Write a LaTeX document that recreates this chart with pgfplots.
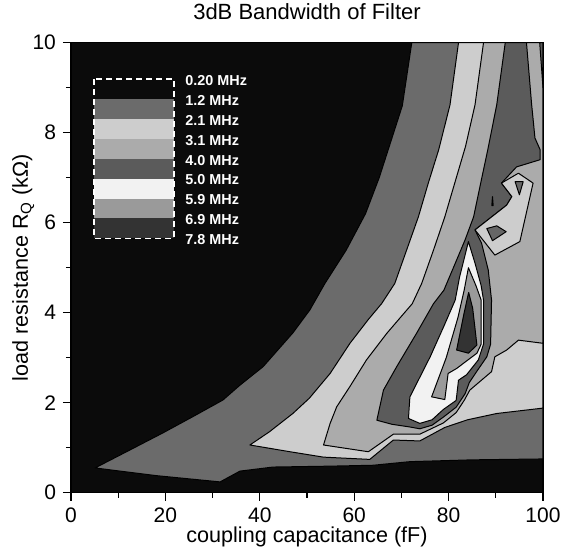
\documentclass[border=0pt]{standalone}
\usepackage{fontspec}
\setmainfont{Liberation Sans}
\usepackage{pgfplots}
\pgfplotsset{compat=1.18}
\definecolor{cK}{HTML}{0B0B0B}
\definecolor{cA}{HTML}{6B6B6B}
\definecolor{cB}{HTML}{CDCDCD}
\definecolor{cC}{HTML}{ABABAB}
\definecolor{cD}{HTML}{5B5B5B}
\definecolor{cE}{HTML}{F2F2F2}
\definecolor{cF}{HTML}{9A9A9A}
\definecolor{cG}{HTML}{333333}
\definecolor{cI}{HTML}{666666}
\begin{document}
\begin{tikzpicture}
\begin{axis}[
  name=ax,
  width=236pt, height=225pt, scale only axis,
  xmin=0, xmax=100, ymin=0, ymax=10,
  xtick={0,20,...,100}, ytick={0,2,...,10},
  minor x tick num=1, minor y tick num=1,
  tick align=outside, tick pos=left,
  major tick length=4pt, minor tick length=2.5pt,
  every tick/.style={black, line width=0.6pt},
  axis line style={line width=0.6pt},
  axis background/.style={fill=cK},
  /pgf/number format/assume math mode=true,
  tick label style={font=\fontsize{10.5}{12}\selectfont},
  xticklabel style={inner sep=1pt, yshift=-2.5pt},
  label style={font=\fontsize{10.8}{12.5}\selectfont},
  every axis title shift=0pt,
  title style={font=\fontsize{11}{13}\selectfont, at={([yshift=11.35pt]axis description cs:0.5,1)}, anchor=base},
  title={3dB Bandwidth of Filter},
  xlabel={coupling capacitance (fF)},
  xlabel style={inner sep=1pt, at={([yshift=-25pt]axis description cs:0.5,0)}, anchor=base},
  ylabel={load resistance R\textsubscript{Q} (kΩ)},
  ylabel style={at={([xshift=-21.5pt]axis description cs:0,0.5)}, anchor=base},
  every axis plot/.append style={draw=black, line width=0.5pt, line join=round, mark=none},
]
% 1.2 - 2.1 MHz
\addplot[fill=cA] coordinates {(72.2,10) (70.2,8.6) (67.6,7.75) (65.3,7.0) (62.4,6.2) (58.3,5.39) (53.8,4.65) (50.6,4.06) (47.0,3.55) (40.7,2.8) (35.8,2.39) (32.2,2.06) (26,1.7) (19.5,1.33) (12.5,0.95) (5.1,0.55) (18,0.38) (31.6,0.24) (35.8,0.48) (42.8,0.57) (55,0.59) (64,0.61) (71.8,0.69) (85,0.73) (100,0.75) (100,10)} -- cycle;
% 2.1 - 3.1 MHz
\addplot[fill=cB] coordinates {(37.9,1.06) (42,1.35) (47.0,1.76) (50.5,2.1) (54.9,2.65) (59.1,3.32) (63.0,3.85) (65.8,4.2) (68.6,4.65) (71.1,5.39) (73.6,6.13) (75.7,6.88) (77.9,7.62) (80.3,8.62) (82.1,10) (100,10) (100,1.88) (90.2,1.76) (84,1.62) (79.2,1.45) (73.9,1.15) (68.3,1.17) (63.3,0.74) (53.5,0.79) (46.4,0.91)} -- cycle;
% 3.1 - 4.0 MHz
\addplot[fill=cC] coordinates {(87.4,10) (85.6,8.62) (83.6,7.7) (81.3,6.88) (79.2,6.13) (76.8,5.39) (74.3,4.65) (72.3,4.2) (66.9,3.54) (62.6,2.95) (59.1,2.36) (56.3,1.91) (54.9,1.54) (53.5,1.06) (63,0.91) (68.3,1.3) (73.9,1.3) (78.9,1.55) (81.6,1.78) (83.3,2.05) (84.5,2.28) (89.1,2.69) (89.8,3.02) (92.3,3.17) (94.8,3.39) (100,3.32) (100,10)} -- cycle;
% 4.0 - 5.0 MHz
\addplot[fill=cD] coordinates {(92,10) (90.2,8.62) (88.3,7.62) (86.8,6.88) (85.3,6.13) (83.5,5.62) (81.7,5.17) (79,4.5) (76.8,4.2) (73.2,3.54) (69.0,2.8) (66.2,2.28) (64.8,1.61) (68,1.52) (71.8,1.46) (73.9,1.42) (76.5,1.5) (78.9,1.68) (81.6,1.9) (83.5,2.2) (84.4,2.45) (86,2.7) (88.1,3.02) (88.9,3.3) (89.1,4.28) (88.4,4.95) (87,5.54) (85.6,5.84) (92.3,6.39) (93.4,6.58) (91.2,6.88) (94.4,7.24) (99.4,7.4) (99.4,7.62) (98.3,7.88) (97.6,8.62) (96.5,10)} -- cycle;
\addplot[fill=cD] coordinates {(99.3,10) (100,10) (100,9.0)} -- cycle;
% island
\addplot[fill=cB] coordinates {(91.2,6.88) (94.8,7.1) (97.9,6.88) (95.1,5.58) (89.8,5.28) (85.6,5.84) (92.3,6.39) (93.4,6.58)} -- cycle;
\addplot[fill=cI] coordinates {(94.1,6.91) (95.8,6.91) (95,6.62)} -- cycle;
\addplot[fill=cI] coordinates {(88.1,5.87) (90.2,5.93) (92.2,5.8) (89.3,5.6)} -- cycle;
\addplot[fill=cB] coordinates {(89.15,6.38) (89.45,6.38) (89.3,6.58)} -- cycle;
% 5.0 - 5.9 MHz
\addplot[fill=cE] coordinates {(84.2,5.58) (85.6,5.1) (86.9,4.6) (87.4,4.28) (87.4,3.3) (86.3,2.95) (83.8,2.62) (82.1,2.5) (81.6,2.05) (78.9,1.85) (76.5,1.62) (73.9,1.54) (71.5,1.65) (71.8,2.13) (76.1,3.02) (79,3.7) (81.4,4.28) (82.3,4.78)} -- cycle;
% 5.9 - 6.9 MHz
\addplot[fill=cF] coordinates {(84.2,5.0) (85.8,4.6) (86.9,4.28) (86.9,3.3) (86,3.1) (81.7,2.76) (79.9,2.65) (79.2,2.07) (76.4,2.13) (79.5,3.0) (82.0,3.9) (83.3,4.5)} -- cycle;
% 6.9 - 7.8 MHz
\addplot[fill=cG] coordinates {(84.25,4.45) (85.1,4.1) (86,3.28) (84.2,3.1) (81.7,3.17) (83.3,4.0)} -- cycle;
% legend
\fill[cK] (axis cs:4.9,9.187) rectangle (axis cs:21.8,8.745);
\fill[cA] (axis cs:4.9,8.745) rectangle (axis cs:21.8,8.304);
\fill[cB] (axis cs:4.9,8.304) rectangle (axis cs:21.8,7.862);
\fill[cC] (axis cs:4.9,7.862) rectangle (axis cs:21.8,7.420);
\fill[cD] (axis cs:4.9,7.420) rectangle (axis cs:21.8,6.979);
\fill[cE] (axis cs:4.9,6.979) rectangle (axis cs:21.8,6.537);
\fill[cF] (axis cs:4.9,6.537) rectangle (axis cs:21.8,6.095);
\fill[cG] (axis cs:4.9,6.095) rectangle (axis cs:21.8,5.653);
\draw[white, line width=0.8pt, dash pattern=on 3pt off 2pt] (axis cs:4.9,9.187) rectangle (axis cs:21.8,5.653);
\begin{scope}[every node/.style={anchor=west, inner sep=0pt, text=white, font=\bfseries\fontsize{7.2}{8}\selectfont}]
\node at (axis cs:24.15,9.157) {0.20 MHz};
\node at (axis cs:24.15,8.715) {1.2 MHz};
\node at (axis cs:24.15,8.274) {2.1 MHz};
\node at (axis cs:24.15,7.832) {3.1 MHz};
\node at (axis cs:24.15,7.390) {4.0 MHz};
\node at (axis cs:24.15,6.949) {5.0 MHz};
\node at (axis cs:24.15,6.507) {5.9 MHz};
\node at (axis cs:24.15,6.065) {6.9 MHz};
\node at (axis cs:24.15,5.623) {7.8 MHz};
\end{scope}
\end{axis}
\pgfresetboundingbox
\path[use as bounding box] ([shift={(-35.5pt,-29.15pt)}]ax.south west) rectangle ([shift={(13.5pt,21.35pt)}]ax.north east);
\end{tikzpicture}
\end{document}
